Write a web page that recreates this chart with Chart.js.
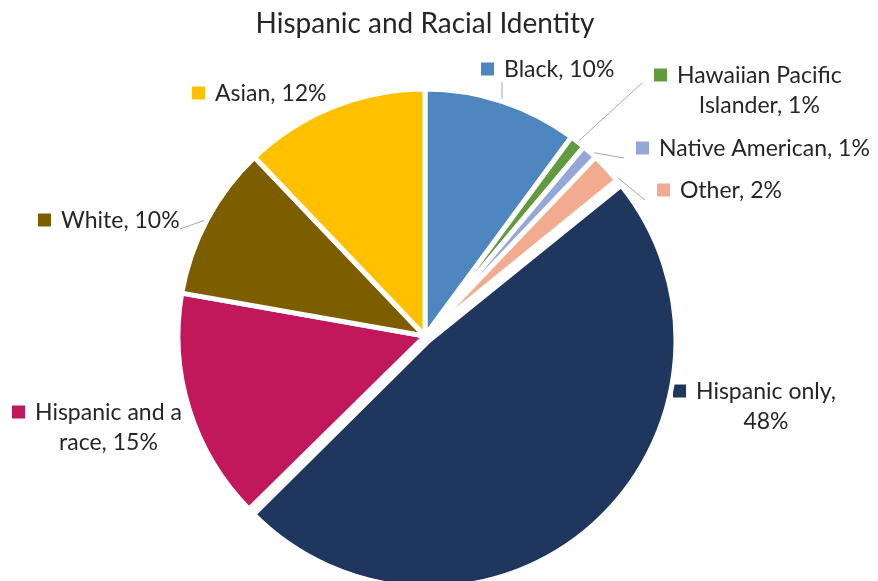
<!DOCTYPE html>
<html>
<head>
<meta charset="utf-8">
<title>Hispanic and Racial Identity</title>
<script src="https://cdn.jsdelivr.net/npm/chart.js@4.4.1/dist/chart.umd.min.js"></script>
<style>
  html, body { margin: 0; padding: 0; background: #fff; }
  #wrap { width: 878px; height: 581px; }
</style>
</head>
<body>
<div id="wrap"><canvas id="pie"></canvas></div>
<script>
const groups = ["Black", "Hawaiian Pacific Islander", "Native American", "Other",
                "Hispanic only", "Hispanic and a race", "White", "Asian"];
const shares = [10, 1, 1, 2, 48, 15, 10, 12];

const sliceColors = ["#4e86bf", "#629b3f", "#95a7d8", "#f3ab8f",
                     "#1f375f", "#c0185b", "#7c5e00", "#ffc000"];
const explode = [0, 0, 0, 0, 24, 0, 0, 0];

// words kept on the first line of a wrapped label
const wrapAfter = [0, 2, 0, 0, 2, 3, 0, 0];
// key square (left edge, middle of first line) relative to the pie centre
const labelSpots = [[56, -267], [229, -261], [211, -188], [232, -146],
                    [248, 55], [-413, 76], [-387, -116], [-233, -243]];
// where the leader line stops, relative to the pie centre
const leaderEnds = [[77, -254], [217, -253], [199, -178], [220, -136],
                    null, null, [-245, -107], null];

const textColor = "#262626";
const labelFont = "23px Lato";
const lineGap = 30;

const pieLabels = {
  id: "pieLabels",
  afterDatasetsUpdate(chart) {
    // an exploded arc also gets a bigger radius in Chart.js; pull it back
    chart.getDatasetMeta(0).data.forEach((arc, i) => {
      const fix = 1 - Math.sin(Math.min(Math.PI, arc.circumference));
      arc.outerRadius -= explode[i] / 4 * fix;
    });
  },
  beforeDatasetsDraw(chart) {
    const ctx = chart.ctx;
    const arcs = chart.getDatasetMeta(0).data;
    ctx.save();
    ctx.font = labelFont;
    ctx.textBaseline = "middle";
    arcs.forEach((arc, i) => {
      const { x, y, startAngle, endAngle, outerRadius } =
        arc.getProps(["x", "y", "startAngle", "endAngle", "outerRadius"], true);
      const mid = (startAngle + endAngle) / 2;

      const end = leaderEnds[i];
      if (end) {
        ctx.strokeStyle = "#a6a6a6";
        ctx.lineWidth = 1;
        ctx.beginPath();
        ctx.moveTo(x + Math.cos(mid) * outerRadius, y + Math.sin(mid) * outerRadius);
        ctx.lineTo(x + end[0], y + end[1]);
        ctx.stroke();
      }

      const words = `${groups[i]}, ${shares[i]}%`.split(" ");
      const n = wrapAfter[i] || words.length;
      const lines = [words.slice(0, n).join(" "), words.slice(n).join(" ")];

      const sx = x + labelSpots[i][0];
      const sy = y + labelSpots[i][1];
      ctx.fillStyle = sliceColors[i];
      ctx.fillRect(sx, sy - 6.5, 13, 13);

      ctx.fillStyle = textColor;
      ctx.textAlign = "left";
      const tx = sx + 23;
      ctx.fillText(lines[0], tx, sy + 1);
      if (lines[1]) {
        const w = ctx.measureText(lines[0]).width;
        ctx.textAlign = "center";
        ctx.fillText(lines[1], tx + w / 2, sy + 1 + lineGap);
      }
    });
    ctx.restore();
  }
};

new Chart(document.getElementById("pie"), {
  type: "pie",
  data: {
    labels: groups,
    datasets: [{
      data: shares,
      backgroundColor: sliceColors,
      borderColor: "#ffffff",
      borderWidth: 5,
      offset: explode,
      radius: 247
    }]
  },
  options: {
    responsive: true,
    maintainAspectRatio: false,
    animation: false,
    events: [],
    layout: { padding: { right: 28 } },
    plugins: {
      legend: { display: false },
      tooltip: { enabled: false },
      title: {
        display: true,
        text: "Hispanic and Racial Identity",
        color: textColor,
        font: { family: "Lato", size: 28, weight: "normal" },
        padding: { top: 7, bottom: 50.4 }
      }
    }
  },
  plugins: [pieLabels]
});
</script>
</body>
</html>
